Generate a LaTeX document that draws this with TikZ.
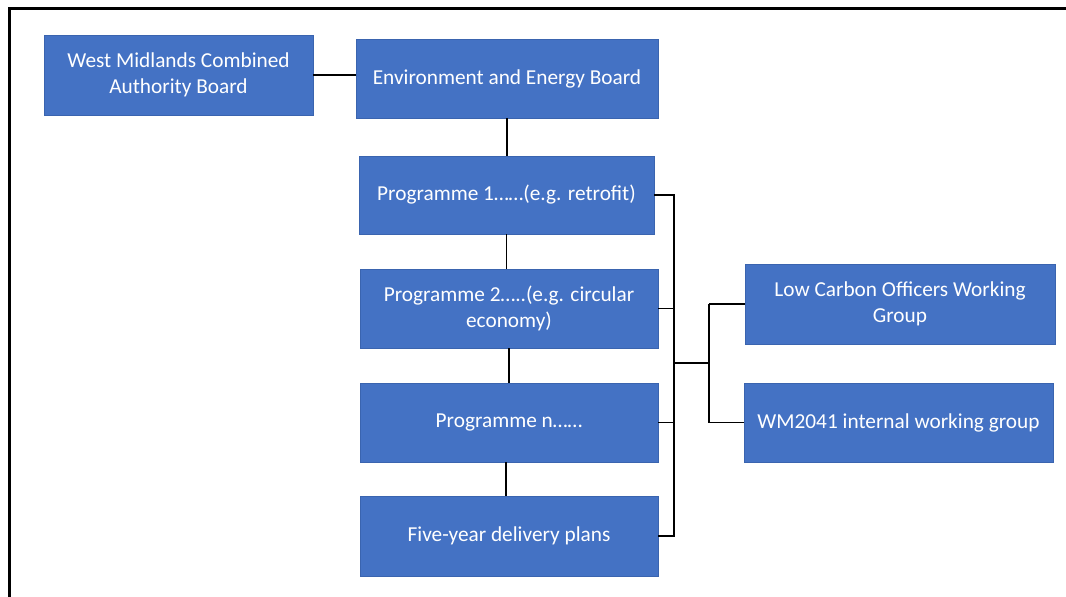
\documentclass[tikz,border=0pt]{standalone}
\usepackage{fontspec}
\setmainfont{Carlito}
\definecolor{boxblue}{HTML}{4472C4}
\definecolor{boxedge}{HTML}{3A64AF}
\begin{document}
\begin{tikzpicture}[x=1pt,y=-1pt,
  orgbox/.style={rectangle, draw=boxedge, line width=0.8pt, fill=boxblue, text=white,
    align=center, inner sep=0pt, font=\fontsize{21.3}{26}\selectfont},
  link/.style={draw=black, line width=1.6pt}]
\useasboundingbox (0,0) rectangle (1066,597);
\draw[line width=2.6pt] (9.3,8.3) rectangle (1075,610);
\node[orgbox, minimum width=269pt, minimum height=80pt] (wmca) at (178.5,75) {West Midlands Combined\\Authority Board};
\node[orgbox, minimum width=302pt, minimum height=79pt] (eeb) at (507,78.5) {\raisebox{-1.5pt}{Environment and Energy Board}};
\node[orgbox, minimum width=295pt, minimum height=78pt] (p1) at (506.5,195) {\raisebox{-1.5pt}{Programme 1……(e.g. retrofit)}};
\node[orgbox, minimum width=298pt, minimum height=79pt] (p2) at (509,308.5) {Programme 2…..(e.g. circular\\economy)};
\node[orgbox, minimum width=298pt, minimum height=79pt] (pn) at (509,422.5) {\raisebox{-1.5pt}{Programme n……}};
\node[orgbox, minimum width=298pt, minimum height=80pt] (five) at (509,536) {\raisebox{-1.5pt}{Five-year delivery plans}};
\node[orgbox, minimum width=310pt, minimum height=80pt] (lowc) at (900,304) {Low Carbon Officers Working\\Group};
\node[orgbox, minimum width=309pt, minimum height=79pt] (wm) at (898.5,422.5) {\raisebox{-1.5pt}{WM2041 internal working group}};
\coordinate (busT) at (674,195);
\coordinate (j) at (674,363);
\coordinate (k) at (709,363);
\path[link] (wmca.east) -- (wmca.east -| eeb.west);
\path[link] (eeb.south) -- (eeb.south |- p1.north);
\path[link] (p1.south) -- (p1.south |- p2.north);
\path[link] (p2.south) -- (p2.south |- pn.north);
\path[link] ([xshift=-3pt]pn.south) -- ([xshift=-3pt]pn.south |- five.north);
\path[link] (p1.east) -- (busT) -- (busT |- five.east) -- (five.east);
\path[link] (p2.east) -- (p2.east -| busT);
\path[link] (pn.east) -- (pn.east -| busT);
\path[link] (j) -- (k);
\path[link] (k |- lowc.west) -- (k |- wm.west);
\path[link] (k |- lowc.west) -- (lowc.west);
\path[link] (k |- wm.west) -- (wm.west);
\end{tikzpicture}
\end{document}
